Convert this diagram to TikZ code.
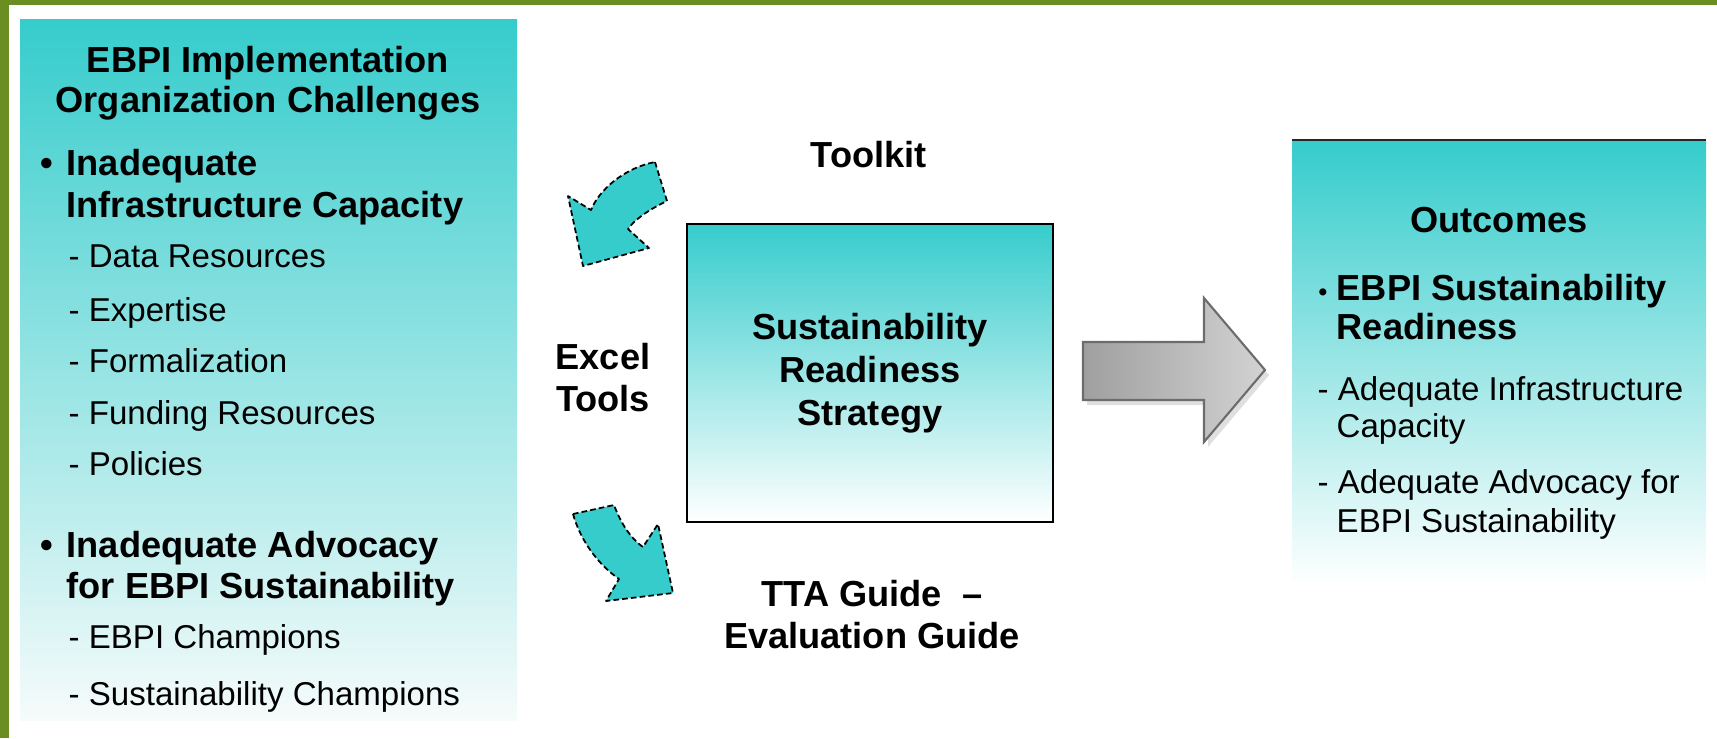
\documentclass[tikz,border=0pt]{standalone}
\usepackage{fontspec}
\setmainfont{Liberation Sans}

\definecolor{olivebar}{RGB}{107,142,35}
\definecolor{aqua}{RGB}{54,204,204}
\definecolor{paleaqua}{RGB}{246,251,251}

\tikzset{
  head/.style={font=\bfseries\fontsize{10.3}{12.2}\selectfont, inner sep=0pt, anchor=base},
  bold/.style={head, anchor=base west},
  sub/.style={font=\fontsize{9.4}{11}\selectfont, inner sep=0pt, anchor=base west},
  bendarrow/.style={fill=aqua, draw=black, line width=0.5pt, dash pattern=on 1.6pt off 0.9pt, line join=round},
}

\begin{document}
\begin{tikzpicture}[x=0.01cm, y=-0.01cm]
    \useasboundingbox (0,0) rectangle (1717,738);
    % frame
    \fill[olivebar] (0,0) rectangle (1717,5);
    \fill[olivebar] (0,0) rectangle (9,738);

    % challenges box
    \shade[top color=aqua, bottom color=paleaqua] (20,19) rectangle (517,720);
    \node[head] (title1) at (268,72) {EBPI Implementation};
    \node[head] (title2) at (268,112) {Organization Challenges};
    \node[bold] (dot1) at (40,175) {•};
    \node[bold] (infra1) at (66,175) {Inadequate};
    \node[bold] (infra2) at (66,217) {Infrastructure Capacity};
    \foreach \t/\y [count=\i] in {Data Resources/267, Expertise/321, Formalization/372, Funding Resources/424, Policies/475}
        \node[sub] (res\i) at (68,\y) {- \t};
    \node[bold] (dot2) at (40,557) {•};
    \node[bold] (advo1) at (66,557) {Inadequate Advocacy};
    \node[bold] (advo2) at (66,598) {for EBPI Sustainability};
    \node[sub] (champ1) at (68,648) {- EBPI Champions};
    \node[sub] (champ2) at (68,705) {- Sustainability Champions};

    % strategy
    \node[draw, line width=0.6pt, top color=aqua, bottom color=white, minimum width=3.66cm, minimum height=2.98cm,
          align=center, inner sep=0pt, font=\bfseries\fontsize{10.3}{12.2}\selectfont] (strat) at (870,373)
          {Sustainability\\Readiness\\Strategy};
    \node[head] (toolkit) at (869,167) {Toolkit};
    \node[head] (excel) at (603,369) {Excel};
    \node[head] (tools) at (603,411) {Tools};
    \node[head] (tta) at (872,606) {TTA Guide~~–};
    \node[head] (evalg) at (872,648) {Evaluation Guide};

    % bent arrows
    \draw[bendarrow] (655,162) -- (667,201) .. controls (650,209) and (635,219) .. (628,229) -- (649,248)
        -- (583,266) -- (568,196) -- (591,210) .. controls (599,190) and (624,168) .. (655,162) -- cycle;
    \draw[bendarrow] (573,514) -- (614,505) .. controls (620,521) and (629,537) .. (643,547) -- (658,524)
        -- (673,593) -- (606,601) -- (619,579) .. controls (599,565) and (581,542) .. (573,514) -- cycle;

    % big arrow
    \fill[gray!25] (1087,347) -- (1208,347) -- (1208,303) -- (1269,375) -- (1208,447) -- (1208,405) -- (1087,405) -- cycle;
    \shade[left color=gray!75, right color=gray!35, draw=gray!85!black, line width=0.6pt]
        (1083,342) -- (1204,342) -- (1204,298) -- (1265,370) -- (1204,442) -- (1204,400) -- (1083,400) -- cycle;

    % outcomes box
    \shade[top color=aqua, bottom color=white] (1292,140) rectangle (1706,585);
    \draw[line width=0.8pt, black!85] (1292,140) -- (1706,140);
    \node[head] (outc) at (1499,232) {Outcomes};
    \node[sub, font=\bfseries\fontsize{7}{8}\selectfont] (dot3) at (1318,300) {•};
    \node[bold] (ready1) at (1336,300) {EBPI Sustainability};
    \node[bold] (ready2) at (1336,339) {Readiness};
    \node[sub] (adeq1) at (1317,400) {- Adequate Infrastructure};
    \node[sub] (adeq2) at (1336,437) {Capacity};
    \node[sub] (adeq3) at (1317,493) {- Adequate Advocacy for};
    \node[sub] (adeq4) at (1336,532) {EBPI Sustainability};
\end{tikzpicture}
\end{document}
